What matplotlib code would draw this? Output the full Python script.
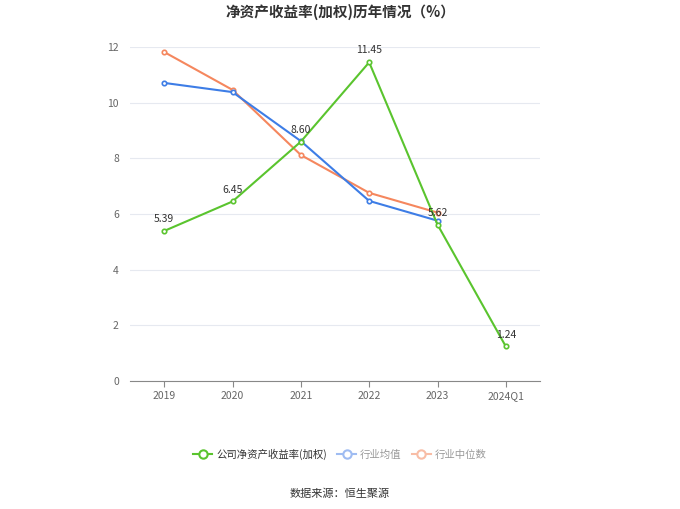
import matplotlib

matplotlib.use("Agg")
import matplotlib.pyplot as plt
from matplotlib.lines import Line2D

plt.rcParams["font.family"] = ["Noto Sans CJK SC", "DejaVu Sans"]

# data
years = ["2019", "2020", "2021", "2022", "2023", "2024Q1"]
company_roe = [5.39, 6.45, 8.60, 11.45, 5.62, 1.24]
industry_mean = [10.71, 10.38, 8.62, 6.47, 5.76]
industry_median = [11.82, 10.46, 8.12, 6.76, 6.05]
y_ticks = [0, 2, 4, 6, 8, 10, 12]

GREEN = "#5ac42e"
BLUE = "#3d7de6"
ORANGE = "#f5875e"

fig = plt.figure(figsize=(6.8, 5.09), dpi=100)
ax = fig.add_axes([130 / 680, 1 - 381 / 509, 410 / 680, 334 / 509])

x = list(range(len(years)))
line_kw = dict(linewidth=1.5, marker="o", markersize=3.2,
               markerfacecolor="white", markeredgewidth=1.2)
ax.plot(x[:len(industry_median)], industry_median, color=ORANGE,
        markeredgecolor=ORANGE, zorder=3, **line_kw)
ax.plot(x[:len(industry_mean)], industry_mean, color=BLUE,
        markeredgecolor=BLUE, zorder=4, **line_kw)
ax.plot(x, company_roe, color=GREEN, markeredgecolor=GREEN, zorder=5, **line_kw)

for xi, v in zip(x, company_roe):
    ax.annotate(f"{v:.2f}", (xi, v), xytext=(0, 5), textcoords="offset points",
                ha="center", va="bottom", fontsize=7.5, color="#333333", zorder=6)

ax.set_xlim(-0.5, len(years) - 0.5)
ax.set_ylim(0, 12)
ax.set_yticks(y_ticks)
ax.set_xticks(x)
ax.set_xticklabels(years)
ax.tick_params(axis="y", length=0, labelsize=7.5, labelcolor="#666666", pad=8)
ax.tick_params(axis="x", length=4, color="#888888", labelsize=7.5,
               labelcolor="#666666", pad=3)
ax.grid(axis="y", color="#e6e9f0", linewidth=0.8)
ax.set_axisbelow(True)
for side in ("top", "right", "left"):
    ax.spines[side].set_visible(False)
ax.spines["bottom"].set_color("#888888")

fig.text(0.5, 1 - 12 / 509, "净资产收益率(加权)历年情况（%）", ha="center", va="center",
         fontsize=10.5, fontweight="bold", color="#333333")

handles = [
    Line2D([], [], color=GREEN, linewidth=1.5, marker="o", markersize=6,
           markerfacecolor="white", markeredgecolor=GREEN, markeredgewidth=1.5),
    Line2D([], [], color="#9fbcf2", linewidth=1.5, marker="o", markersize=6,
           markerfacecolor="white", markeredgecolor="#9fbcf2", markeredgewidth=1.5),
    Line2D([], [], color="#f8bda6", linewidth=1.5, marker="o", markersize=6,
           markerfacecolor="white", markeredgecolor="#f8bda6", markeredgewidth=1.5),
]
labels = ["公司净资产收益率(加权)", "行业均值", "行业中位数"]
leg = fig.legend(handles, labels, loc="center", bbox_to_anchor=(0.5, 1 - 454 / 509),
                 ncol=3, frameon=False, fontsize=7.5, handlelength=1.8,
                 handletextpad=0.4, columnspacing=1.0)
for t, c in zip(leg.get_texts(), ["#333333", "#999999", "#999999"]):
    t.set_color(c)

fig.text(0.5, 1 - 494 / 509, "数据来源：恒生聚源", ha="center", va="center",
         fontsize=8, color="#333333")

fig.savefig("out.png", dpi=100)
